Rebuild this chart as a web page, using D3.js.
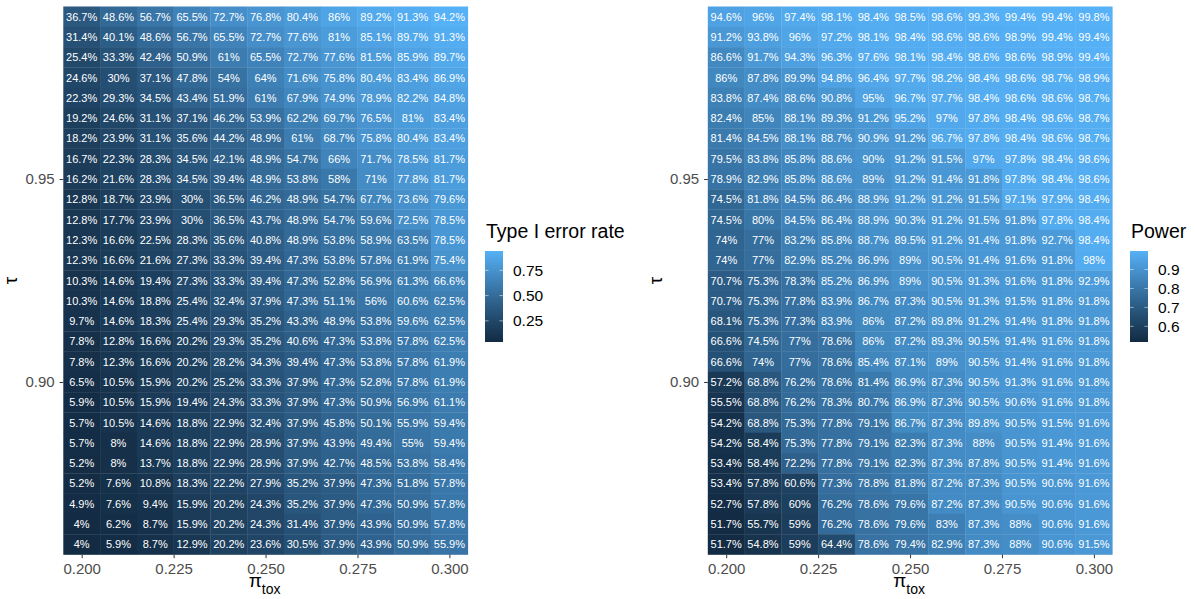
<!DOCTYPE html>
<html>
<head>
<meta charset="utf-8">
<script src="https://cdn.jsdelivr.net/npm/d3@7"></script>
<style>
  html, body { margin: 0; padding: 0; background: #ffffff; }
  svg { display: block; font-family: "Liberation Sans", Arial, sans-serif; }
</style>
</head>
<body>
<svg id="chart" width="1195" height="599"></svg>
<script>
// Grid definition: toxicity probability (columns) and threshold tau (rows, top to bottom)
const piTox = [0.20, 0.21, 0.22, 0.23, 0.24, 0.25, 0.26, 0.27, 0.28, 0.29, 0.30];
const tau = [0.99, 0.985, 0.98, 0.975, 0.97, 0.965, 0.96, 0.955, 0.95, 0.945, 0.94, 0.935, 0.93, 0.925,
             0.92, 0.915, 0.91, 0.905, 0.90, 0.895, 0.89, 0.885, 0.88, 0.875, 0.87, 0.865, 0.86];

// Type I error rate (%) per tau row, one value per pi_tox column
const typeIError = [
  [36.7, 48.6, 56.7, 65.5, 72.7, 76.8, 80.4, 86, 89.2, 91.3, 94.2],
  [31.4, 40.1, 48.6, 56.7, 65.5, 72.7, 77.6, 81, 85.1, 89.7, 91.3],
  [25.4, 33.3, 42.4, 50.9, 61, 65.5, 72.7, 77.6, 81.5, 85.9, 89.7],
  [24.6, 30, 37.1, 47.8, 54, 64, 71.6, 75.8, 80.4, 83.4, 86.9],
  [22.3, 29.3, 34.5, 43.4, 51.9, 61, 67.9, 74.9, 78.9, 82.2, 84.8],
  [19.2, 24.6, 31.1, 37.1, 46.2, 53.9, 62.2, 69.7, 76.5, 81, 83.4],
  [18.2, 23.9, 31.1, 35.6, 44.2, 48.9, 61, 68.7, 75.8, 80.4, 83.4],
  [16.7, 22.3, 28.3, 34.5, 42.1, 48.9, 54.7, 66, 71.7, 78.5, 81.7],
  [16.2, 21.6, 28.3, 34.5, 39.4, 48.9, 53.8, 58, 71, 77.8, 81.7],
  [12.8, 18.7, 23.9, 30, 36.5, 46.2, 48.9, 54.7, 67.7, 73.6, 79.6],
  [12.8, 17.7, 23.9, 30, 36.5, 43.7, 48.9, 54.7, 59.6, 72.5, 78.5],
  [12.3, 16.6, 22.5, 28.3, 35.6, 40.8, 48.9, 53.8, 58.9, 63.5, 78.5],
  [12.3, 16.6, 21.6, 27.3, 33.3, 39.4, 47.3, 53.8, 57.8, 61.9, 75.4],
  [10.3, 14.6, 19.4, 27.3, 33.3, 39.4, 47.3, 52.8, 56.9, 61.3, 66.6],
  [10.3, 14.6, 18.8, 25.4, 32.4, 37.9, 47.3, 51.1, 56, 60.6, 62.5],
  [9.7, 14.6, 18.3, 25.4, 29.3, 35.2, 43.3, 48.9, 53.8, 59.6, 62.5],
  [7.8, 12.8, 16.6, 20.2, 29.3, 35.2, 40.6, 47.3, 53.8, 57.8, 62.5],
  [7.8, 12.3, 16.6, 20.2, 28.2, 34.3, 39.4, 47.3, 53.8, 57.8, 61.9],
  [6.5, 10.5, 15.9, 20.2, 25.2, 33.3, 37.9, 47.3, 52.8, 57.8, 61.9],
  [5.9, 10.5, 15.9, 19.4, 24.3, 33.3, 37.9, 47.3, 50.9, 56.9, 61.1],
  [5.7, 10.5, 14.6, 18.8, 22.9, 32.4, 37.9, 45.8, 50.1, 55.9, 59.4],
  [5.7, 8, 14.6, 18.8, 22.9, 28.9, 37.9, 43.9, 49.4, 55, 59.4],
  [5.2, 8, 13.7, 18.8, 22.9, 28.9, 37.9, 42.7, 48.5, 53.8, 58.4],
  [5.2, 7.6, 10.8, 18.3, 22.2, 27.9, 35.2, 37.9, 47.3, 51.8, 57.8],
  [4.9, 7.6, 9.4, 15.9, 20.2, 24.3, 35.2, 37.9, 47.3, 50.9, 57.8],
  [4, 6.2, 8.7, 15.9, 20.2, 24.3, 31.4, 37.9, 43.9, 50.9, 57.8],
  [4, 5.9, 8.7, 12.9, 20.2, 23.6, 30.5, 37.9, 43.9, 50.9, 55.9]
];

// Power (%) per tau row, one value per pi_tox column
const power = [
  [94.6, 96, 97.4, 98.1, 98.4, 98.5, 98.6, 99.3, 99.4, 99.4, 99.8],
  [91.2, 93.8, 96, 97.2, 98.1, 98.4, 98.6, 98.6, 98.9, 99.4, 99.4],
  [86.6, 91.7, 94.3, 96.3, 97.6, 98.1, 98.4, 98.6, 98.6, 98.9, 99.4],
  [86, 87.8, 89.9, 94.8, 96.4, 97.7, 98.2, 98.4, 98.6, 98.7, 98.9],
  [83.8, 87.4, 88.6, 90.8, 95, 96.7, 97.7, 98.4, 98.6, 98.6, 98.7],
  [82.4, 85, 88.1, 89.3, 91.2, 95.2, 97, 97.8, 98.4, 98.6, 98.7],
  [81.4, 84.5, 88.1, 88.7, 90.9, 91.2, 96.7, 97.8, 98.4, 98.6, 98.7],
  [79.5, 83.8, 85.8, 88.6, 90, 91.2, 91.5, 97, 97.8, 98.4, 98.6],
  [78.9, 82.9, 85.8, 88.6, 89, 91.2, 91.4, 91.8, 97.8, 98.4, 98.6],
  [74.5, 81.8, 84.5, 86.4, 88.9, 91.2, 91.2, 91.5, 97.1, 97.9, 98.4],
  [74.5, 80, 84.5, 86.4, 88.9, 90.3, 91.2, 91.5, 91.8, 97.8, 98.4],
  [74, 77, 83.2, 85.8, 88.7, 89.5, 91.2, 91.4, 91.8, 92.7, 98.4],
  [74, 77, 82.9, 85.2, 86.9, 89, 90.5, 91.4, 91.6, 91.8, 98],
  [70.7, 75.3, 78.3, 85.2, 86.9, 89, 90.5, 91.3, 91.6, 91.8, 92.9],
  [70.7, 75.3, 77.8, 83.9, 86.7, 87.3, 90.5, 91.3, 91.5, 91.8, 91.8],
  [68.1, 75.3, 77.3, 83.9, 86, 87.2, 89.8, 91.2, 91.4, 91.8, 91.8],
  [66.6, 74.5, 77, 78.6, 86, 87.2, 89.3, 90.5, 91.4, 91.6, 91.8],
  [66.6, 74, 77, 78.6, 85.4, 87.1, 89, 90.5, 91.4, 91.6, 91.8],
  [57.2, 68.8, 76.2, 78.6, 81.4, 86.9, 87.3, 90.5, 91.3, 91.6, 91.8],
  [55.5, 68.8, 76.2, 78.3, 80.7, 86.9, 87.3, 90.5, 90.6, 91.6, 91.8],
  [54.2, 68.8, 75.3, 77.8, 79.1, 86.7, 87.3, 89.8, 90.5, 91.5, 91.6],
  [54.2, 58.4, 75.3, 77.8, 79.1, 82.3, 87.3, 88, 90.5, 91.4, 91.6],
  [53.4, 58.4, 72.2, 77.8, 79.1, 82.3, 87.3, 87.8, 90.5, 91.4, 91.6],
  [53.4, 57.8, 60.6, 77.3, 78.8, 81.8, 87.2, 87.3, 90.5, 90.6, 91.6],
  [52.7, 57.8, 60, 76.2, 78.6, 79.6, 87.2, 87.3, 90.5, 90.6, 91.6],
  [51.7, 55.7, 59, 76.2, 78.6, 79.6, 83, 87.3, 88, 90.6, 91.6],
  [51.7, 54.8, 59, 64.4, 78.6, 79.4, 82.9, 87.3, 88, 90.6, 91.5]
];

// Axis breaks and labels
const xTicks = [0.200, 0.225, 0.250, 0.275, 0.300];
const xTickLabels = ["0.200", "0.225", "0.250", "0.275", "0.300"];
const yTicks = [0.90, 0.95];
const yTickLabels = ["0.90", "0.95"];
const typeIBreaks = [0.25, 0.50, 0.75];
const typeIBreakLabels = ["0.25", "0.50", "0.75"];
const powerBreaks = [0.6, 0.7, 0.8, 0.9];
const powerBreakLabels = ["0.6", "0.7", "0.8", "0.9"];

const svg = d3.select("#chart");
const LOW = "#132B43", HIGH = "#56B1F7";
const panelTop = 6.5, panelBottom = 554.5, panelW = 404.5;
const dx = 0.01, dy = 0.005;

function fmtPct(v) { return (+v.toFixed(1)) + "%"; }

function drawPanel(cfg) {
  const x = d3.scaleLinear()
    .domain([d3.min(piTox) - dx / 2, d3.max(piTox) + dx / 2])
    .range([cfg.x0, cfg.x0 + panelW]);
  const y = d3.scaleLinear()
    .domain([d3.min(tau) - dy / 2, d3.max(tau) + dy / 2])
    .range([panelBottom, panelTop]);

  const flat = [];
  cfg.values.forEach((row, i) => row.forEach((v, j) => flat.push({ t: tau[i], p: piTox[j], v: v / 100, label: fmtPct(v) })));
  const ext = d3.extent(flat, d => d.v);
  const color = d3.scaleLinear().domain(ext).range([LOW, HIGH]).interpolate(d3.interpolateLab);

  const g = svg.append("g");

  // Tiles
  g.selectAll("rect.tile").data(flat).join("rect")
    .attr("class", "tile")
    .attr("x", d => x(d.p - dx / 2))
    .attr("y", d => y(d.t + dy / 2))
    .attr("width", d => x(d.p + dx / 2) - x(d.p - dx / 2) + 0.3)
    .attr("height", d => y(d.t - dy / 2) - y(d.t + dy / 2) + 0.3)
    .attr("fill", d => color(d.v));

  // Cell labels
  g.selectAll("text.cell").data(flat).join("text")
    .attr("class", "cell")
    .attr("x", d => x(d.p))
    .attr("y", d => y(d.t) + 4)
    .attr("text-anchor", "middle")
    .attr("font-size", 11)
    .attr("fill", "#ffffff")
    .text(d => d.label);

  // X axis
  const xAxis = d3.axisBottom(x).tickValues(xTicks).tickSize(3.7).tickPadding(5)
    .tickFormat((d, i) => xTickLabels[i]);
  const gx = g.append("g").attr("transform", `translate(0,${panelBottom})`).call(xAxis);
  gx.select(".domain").remove();
  gx.selectAll("line").attr("stroke", "#333333").attr("stroke-width", 1);
  gx.selectAll("text").attr("font-size", 15).attr("fill", "#4D4D4D")
    .attr("font-family", "Liberation Sans, Arial, sans-serif");

  // Y axis
  const yAxis = d3.axisLeft(y).tickValues(yTicks).tickSize(3.7).tickPadding(5)
    .tickFormat((d, i) => yTickLabels[i]);
  const gy = g.append("g").attr("transform", `translate(${cfg.x0},0)`).call(yAxis);
  gy.select(".domain").remove();
  gy.selectAll("line").attr("stroke", "#333333").attr("stroke-width", 1);
  gy.selectAll("text").attr("font-size", 15).attr("fill", "#4D4D4D")
    .attr("font-family", "Liberation Sans, Arial, sans-serif");

  // Axis titles
  const cx = cfg.x0 + panelW / 2;
  const xt = g.append("text").attr("x", cx - 1).attr("y", 587).attr("text-anchor", "middle").attr("fill", "#000");
  xt.append("tspan").attr("font-size", 19).text("π");
  xt.append("tspan").attr("font-size", 14).attr("dy", 7).text("tox");

  g.append("text")
    .attr("transform", `translate(${cfg.x0 - 46},${(panelTop + panelBottom) / 2}) rotate(-90)`)
    .attr("text-anchor", "middle")
    .attr("font-size", 19)
    .attr("fill", "#000")
    .text("τ");

  // Colour bar legend
  const barTop = 251, barBottom = 342, barW = 18;
  const gradId = "grad-" + cfg.id;
  const grad = svg.append("defs").append("linearGradient")
    .attr("id", gradId).attr("x1", 0).attr("y1", 1).attr("x2", 0).attr("y2", 0);
  d3.range(0, 1.0001, 0.02).forEach(f => {
    grad.append("stop").attr("offset", f).attr("stop-color", color(ext[0] + f * (ext[1] - ext[0])));
  });
  const ly = d3.scaleLinear().domain(ext).range([barBottom, barTop]);

  g.append("text")
    .attr("x", cfg.legendX + 1)
    .attr("y", 238)
    .attr("font-size", 19.5)
    .attr("fill", "#000")
    .text(cfg.title);

  g.append("rect")
    .attr("x", cfg.legendX).attr("y", barTop)
    .attr("width", barW).attr("height", barBottom - barTop)
    .attr("fill", `url(#${gradId})`);

  cfg.breaks.forEach((b, i) => {
    const yy = ly(b);
    g.append("line").attr("x1", cfg.legendX).attr("x2", cfg.legendX + 3.6)
      .attr("y1", yy).attr("y2", yy).attr("stroke", "#ffffff").attr("stroke-opacity", 0.5);
    g.append("line").attr("x1", cfg.legendX + barW - 3.6).attr("x2", cfg.legendX + barW)
      .attr("y1", yy).attr("y2", yy).attr("stroke", "#ffffff").attr("stroke-opacity", 0.5);
    g.append("text")
      .attr("x", cfg.legendX + barW + 10)
      .attr("y", yy + 5.5)
      .attr("font-size", 15.5)
      .attr("fill", "#000")
      .text(cfg.breakLabels[i]);
  });
}

drawPanel({ id: "t1", x0: 63.3, values: typeIError, title: "Type I error rate",
            breaks: typeIBreaks, breakLabels: typeIBreakLabels, legendX: 485 });
drawPanel({ id: "pw", x0: 707.8, values: power, title: "Power",
            breaks: powerBreaks, breakLabels: powerBreakLabels, legendX: 1130 });
</script>
</body>
</html>
